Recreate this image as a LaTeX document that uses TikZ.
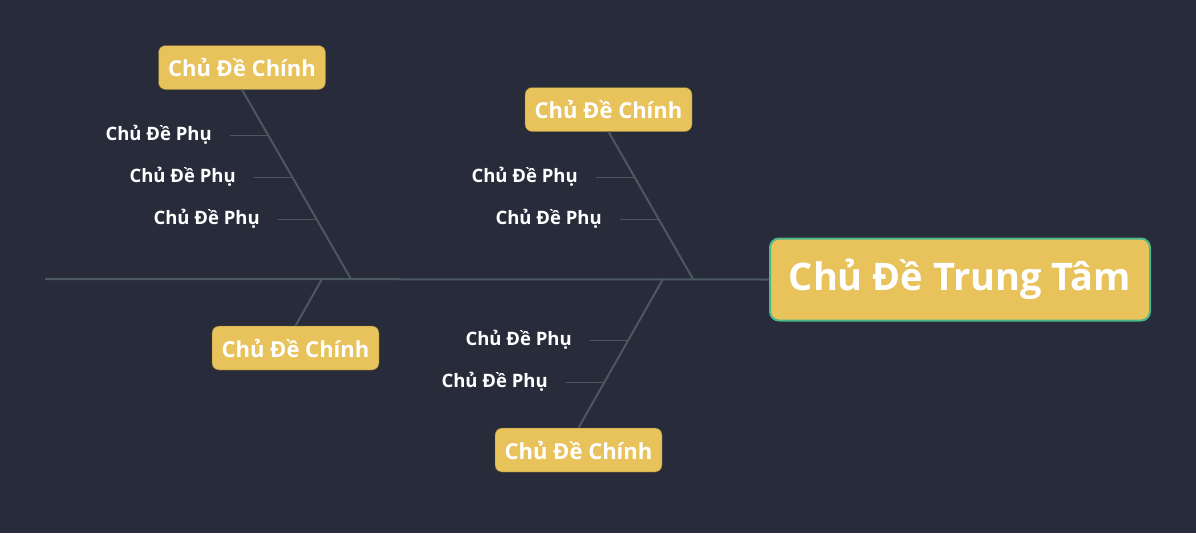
\documentclass[tikz,border=0pt]{standalone}
\usepackage{fontspec}
\setmainfont{Open Sans}
\definecolor{bg}{HTML}{272B3A}
\definecolor{gold}{HTML}{E8C25A}
\definecolor{ln}{HTML}{4A5862}
\definecolor{grn}{HTML}{4DB88A}
\begin{document}
\begin{tikzpicture}[x=1pt,y=-1pt,
 mainb/.style={draw=gold!55!black,fill=gold,rounded corners=7pt,text=white,font=\bfseries\fontsize{22}{25}\selectfont,minimum width=167pt,minimum height=44pt,inner sep=2pt},
 subl/.style={text=white,font=\bfseries\fontsize{18.5}{21}\selectfont,anchor=east,inner sep=0pt},
 bone/.style={ln,line width=2pt},
 sbone/.style={ln,line width=1pt}]
\fill[bg] (0,0) rectangle (1196,533);
\useasboundingbox (0,0) rectangle (1196,533);
\node[draw=grn,line width=2pt,fill=gold,rounded corners=9pt,text=white,font=\bfseries\fontsize{38}{42}\selectfont,minimum width=380pt,minimum height=82pt] (c) at (960,279.5) {Chủ Đề Trung Tâm};
\coordinate (s0) at (45,279);
\draw[bone] (s0) -- (c.west);
% top-left
\node[mainb] (m1) at (242,67.5) {Chủ Đề Chính};
\coordinate (j1) at (351,279);
\draw[bone] (m1.south) -- (j1);
\coordinate (a1) at (268,135); \coordinate (a2) at (292,177); \coordinate (a3) at (316,219);
\node[subl] (t1) at (212,135) {Chủ Đề Phụ};
\node[subl] (t2) at (236,177) {Chủ Đề Phụ};
\node[subl] (t3) at (260,219) {Chủ Đề Phụ};
\draw[sbone] (t1.east)++(18,0) -- (a1);
\draw[sbone] (t2.east)++(18,0) -- (a2);
\draw[sbone] (t3.east)++(18,0) -- (a3);
% top-center
\node[mainb] (m2) at (608.5,109.5) {Chủ Đề Chính};
\coordinate (j2) at (693,279);
\draw[bone] (m2.south) -- (j2);
\coordinate (b1) at (634,177); \coordinate (b2) at (658,219);
\node[subl] (u1) at (578,177) {Chủ Đề Phụ};
\node[subl] (u2) at (602,219) {Chủ Đề Phụ};
\draw[sbone] (u1.east)++(18,0) -- (b1);
\draw[sbone] (u2.east)++(18,0) -- (b2);
% bottom-left
\node[mainb] (m3) at (295.5,348) {Chủ Đề Chính};
\coordinate (j3) at (322,279);
\draw[bone] (j3) -- (m3.north);
% bottom-center
\node[mainb] (m4) at (578.5,450) {Chủ Đề Chính};
\coordinate (j4) at (663,279);
\draw[bone] (j4) -- (m4.north);
\coordinate (d1) at (628,340); \coordinate (d2) at (604,382);
\node[subl] (v1) at (572,340) {Chủ Đề Phụ};
\node[subl] (v2) at (548,382) {Chủ Đề Phụ};
\draw[sbone] (v1.east)++(18,0) -- (d1);
\draw[sbone] (v2.east)++(18,0) -- (d2);
\end{tikzpicture}
\end{document}
